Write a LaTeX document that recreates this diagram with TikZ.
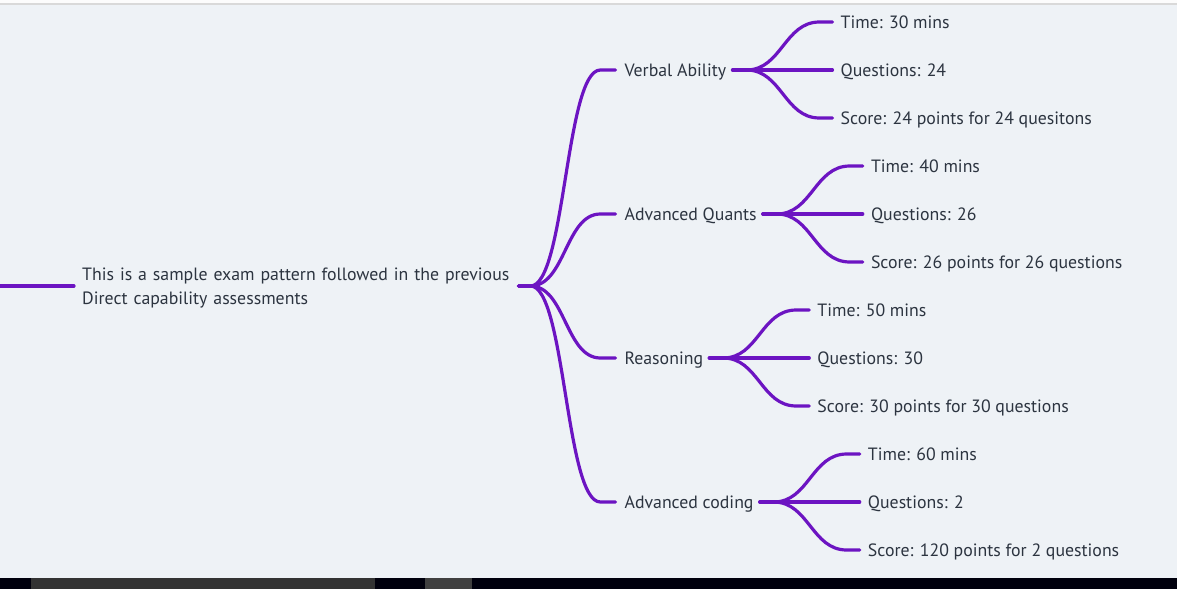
\documentclass[tikz,border=0pt]{standalone}
\usepackage{fontspec}
\setmainfont{PT Sans}
\usetikzlibrary{positioning}
\definecolor{bgpanel}{HTML}{EEF2F6}
\definecolor{branchpurple}{HTML}{6C14C2}
\definecolor{inktext}{HTML}{2C3440}

\begin{document}
\begin{tikzpicture}[
        x=1pt, y=1pt,
        node distance=114pt,
        topic/.style={anchor=west, inner sep=0pt, text height=15pt, text depth=3pt, text=inktext, font=\fontsize{17.8}{24}\selectfont},
        roottopic/.style={topic, text width=430pt, align=left, text height=16.8pt, text depth=27.6pt},
        branch/.style={draw=branchpurple, line width=3.2pt, line cap=round},
        fork/.style={branch, to path={.. controls +(35,0) and +(-35,0) .. (\tikztotarget)}}
    ]

        % Page, header shadow and task bar
        \fill[bgpanel] (0,0) rectangle (1177,-589);
        \useasboundingbox (0,0) rectangle (1177,-589);
        \fill[white!98!gray] (0,0) rectangle (1177,-3);
        \fill[gray!30] (0,-3) rectangle (1177,-5);
        \fill[black!95!blue] (0,-578) rectangle (1177,-589);
        \fill[black!80] (31,-578) rectangle (375,-589);
        \fill[black!75] (425,-578) rectangle (472,-589);

        % Level 1: Root
        \node (root) [roottopic] at (82,-286) {This is a sample exam pattern followed in the previous\\Direct capability assessments};
        \coordinate (rootin) at (0,-286);

        % Level 2: Sections
        \node (verbal) [topic, right=112pt of root, yshift=216pt] {Verbal Ability};
        \node (quants) [topic, right=112pt of root, yshift=72pt] {Advanced Quants};
        \node (reason) [topic, right=112pt of root, yshift=-72pt] {Reasoning};
        \node (coding) [topic, right=112pt of root, yshift=-216pt] {Advanced coding};

        % Level 3: Details
        \node (verbaltime) [topic, right=of verbal, yshift=48pt] {Time: 30 mins};
        \node (verbalques) [topic, right=of verbal] {Questions: 24};
        \node (verbalscore) [topic, right=of verbal, yshift=-48pt] {Score: 24 points for 24 quesitons};

        \node (quantstime) [topic, right=of quants, yshift=48pt] {Time: 40 mins};
        \node (quantsques) [topic, right=of quants] {Questions: 26};
        \node (quantsscore) [topic, right=of quants, yshift=-48pt] {Score: 26 points for 26 questions};

        \node (reasontime) [topic, right=of reason, yshift=48pt] {Time: 50 mins};
        \node (reasonques) [topic, right=of reason] {Questions: 30};
        \node (reasonscore) [topic, right=of reason, yshift=-48pt] {Score: 30 points for 30 questions};

        \node (codingtime) [topic, right=of coding, yshift=48pt] {Time: 60 mins};
        \node (codingques) [topic, right=of coding] {Questions: 2};
        \node (codingscore) [topic, right=of coding, yshift=-48pt] {Score: 120 points for 2 questions};

        % Line into the root
        \draw [branch] (rootin) -- ([xshift=-8pt]root.west);

        % Root to sections
        \draw [fork] ([xshift=6pt]root.east) -- ++(12,0) to ([xshift=-24pt]verbal.west) -- ([xshift=-9pt]verbal.west);
        \draw [fork] ([xshift=6pt]root.east) -- ++(12,0) to ([xshift=-24pt]quants.west) -- ([xshift=-9pt]quants.west);
        \draw [fork] ([xshift=6pt]root.east) -- ++(12,0) to ([xshift=-24pt]reason.west) -- ([xshift=-9pt]reason.west);
        \draw [fork] ([xshift=6pt]root.east) -- ++(12,0) to ([xshift=-24pt]coding.west) -- ([xshift=-9pt]coding.west);

        % Sections to details
        \draw [fork] ([xshift=6pt]verbal.east) -- ++(14,0) to ([xshift=-21pt]verbaltime.west) -- ([xshift=-8pt]verbaltime.west);
        \draw [branch] ([xshift=6pt]verbal.east) -- ([xshift=-8pt]verbalques.west);
        \draw [fork] ([xshift=6pt]verbal.east) -- ++(14,0) to ([xshift=-21pt]verbalscore.west) -- ([xshift=-8pt]verbalscore.west);

        \draw [fork] ([xshift=6pt]quants.east) -- ++(14,0) to ([xshift=-21pt]quantstime.west) -- ([xshift=-8pt]quantstime.west);
        \draw [branch] ([xshift=6pt]quants.east) -- ([xshift=-8pt]quantsques.west);
        \draw [fork] ([xshift=6pt]quants.east) -- ++(14,0) to ([xshift=-21pt]quantsscore.west) -- ([xshift=-8pt]quantsscore.west);

        \draw [fork] ([xshift=6pt]reason.east) -- ++(14,0) to ([xshift=-21pt]reasontime.west) -- ([xshift=-8pt]reasontime.west);
        \draw [branch] ([xshift=6pt]reason.east) -- ([xshift=-8pt]reasonques.west);
        \draw [fork] ([xshift=6pt]reason.east) -- ++(14,0) to ([xshift=-21pt]reasonscore.west) -- ([xshift=-8pt]reasonscore.west);

        \draw [fork] ([xshift=6pt]coding.east) -- ++(14,0) to ([xshift=-21pt]codingtime.west) -- ([xshift=-8pt]codingtime.west);
        \draw [branch] ([xshift=6pt]coding.east) -- ([xshift=-8pt]codingques.west);
        \draw [fork] ([xshift=6pt]coding.east) -- ++(14,0) to ([xshift=-21pt]codingscore.west) -- ([xshift=-8pt]codingscore.west);

    \end{tikzpicture}
\end{document}
